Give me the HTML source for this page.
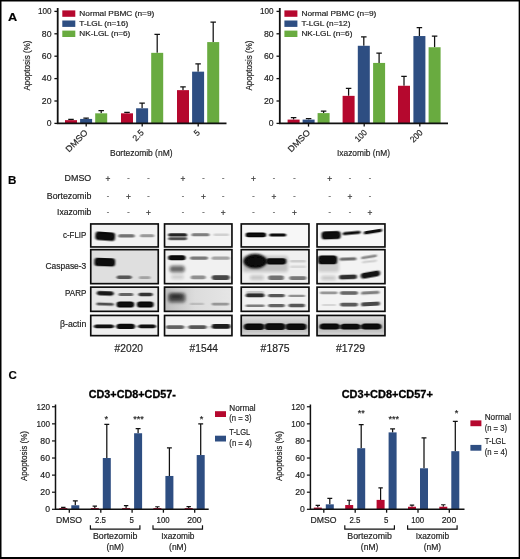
<!DOCTYPE html>
<html lang="en"><head><meta charset="utf-8"><title>Figure</title>
<style>
html,body{margin:0;padding:0;background:#fff}
body{width:520px;height:559px;overflow:hidden;position:relative}
svg{position:absolute;left:0;top:0;display:block}
svg text{font-family:"Liberation Sans", Arial, sans-serif;fill:#222;stroke:#222;stroke-width:0.18px}
</style></head><body>
<svg width="520" height="559" viewBox="0 0 520 559">
<rect width="520" height="559" fill="#fff"/>
<text x="8" y="21.3" font-size="11.5" font-weight="bold" textLength="9.2" lengthAdjust="spacingAndGlyphs" style="fill:#000">A</text>
<text x="8" y="184.2" textLength="8.4" lengthAdjust="spacingAndGlyphs" font-size="11.5" font-weight="bold" style="fill:#000">B</text>
<text x="8.6" y="379.4" font-size="11.5" font-weight="bold" style="fill:#000">C</text>
<g id="panelA">
<path d="M71.00 120.15V119.26M68.25 119.26H73.75" stroke="#111" stroke-width="1.25" fill="none"/>
<rect x="65.00" y="120.15" width="12.00" height="3.25" fill="#b5082e"/>
<path d="M86.10 118.92V118.02M83.35 118.02H88.85" stroke="#111" stroke-width="1.25" fill="none"/>
<rect x="80.10" y="118.92" width="12.00" height="4.48" fill="#2e4e82"/>
<path d="M101.20 113.32V110.52M98.45 110.52H103.95" stroke="#111" stroke-width="1.25" fill="none"/>
<rect x="95.20" y="113.32" width="12.00" height="10.08" fill="#69ab40"/>
<path d="M127.00 113.32V112.42M124.25 112.42H129.75" stroke="#111" stroke-width="1.25" fill="none"/>
<rect x="121.00" y="113.32" width="12.00" height="10.08" fill="#b5082e"/>
<path d="M142.10 108.28V103.24M139.35 103.24H144.85" stroke="#111" stroke-width="1.25" fill="none"/>
<rect x="136.10" y="108.28" width="12.00" height="15.12" fill="#2e4e82"/>
<path d="M157.20 52.84V34.36M154.45 34.36H159.95" stroke="#111" stroke-width="1.25" fill="none"/>
<rect x="151.20" y="52.84" width="12.00" height="70.56" fill="#69ab40"/>
<path d="M183.00 90.14V86.89M180.25 86.89H185.75" stroke="#111" stroke-width="1.25" fill="none"/>
<rect x="177.00" y="90.14" width="12.00" height="33.26" fill="#b5082e"/>
<path d="M198.10 71.66V63.82M195.35 63.82H200.85" stroke="#111" stroke-width="1.25" fill="none"/>
<rect x="192.10" y="71.66" width="12.00" height="51.74" fill="#2e4e82"/>
<path d="M213.20 42.09V22.04M210.45 22.04H215.95" stroke="#111" stroke-width="1.25" fill="none"/>
<rect x="207.20" y="42.09" width="12.00" height="81.31" fill="#69ab40"/>
<path d="M57.7 8V123.4H226.5" stroke="#111" stroke-width="1.8" fill="none"/>
<path d="M54.400000000000006 123.40H57.7" stroke="#111" stroke-width="1.3"/>
<text x="51.5" y="126.1" font-size="8.8" text-anchor="end" textLength="4.8" lengthAdjust="spacingAndGlyphs">0</text>
<path d="M54.400000000000006 101.00H57.7" stroke="#111" stroke-width="1.3"/>
<text x="51.5" y="103.7" font-size="8.8" text-anchor="end" textLength="9.7" lengthAdjust="spacingAndGlyphs">20</text>
<path d="M54.400000000000006 78.60H57.7" stroke="#111" stroke-width="1.3"/>
<text x="51.5" y="81.3" font-size="8.8" text-anchor="end" textLength="9.7" lengthAdjust="spacingAndGlyphs">40</text>
<path d="M54.400000000000006 56.20H57.7" stroke="#111" stroke-width="1.3"/>
<text x="51.5" y="58.9" font-size="8.8" text-anchor="end" textLength="9.7" lengthAdjust="spacingAndGlyphs">60</text>
<path d="M54.400000000000006 33.80H57.7" stroke="#111" stroke-width="1.3"/>
<text x="51.5" y="36.5" font-size="8.8" text-anchor="end" textLength="9.7" lengthAdjust="spacingAndGlyphs">80</text>
<path d="M54.400000000000006 11.40H57.7" stroke="#111" stroke-width="1.3"/>
<text x="51.5" y="14.1" font-size="8.8" text-anchor="end" textLength="13.6" lengthAdjust="spacingAndGlyphs">100</text>
<path d="M86.2 123.4V126.60000000000001" stroke="#111" stroke-width="1.3"/>
<path d="M142.2 123.4V126.60000000000001" stroke="#111" stroke-width="1.3"/>
<path d="M198.2 123.4V126.60000000000001" stroke="#111" stroke-width="1.3"/>
<text font-size="9.6" text-anchor="middle" textLength="50" lengthAdjust="spacingAndGlyphs" transform="translate(30.3 65.5) rotate(-90)">Apoptosis (%)</text>
<rect x="62.3" y="10.4" width="13" height="6.4" fill="#b5082e"/>
<text x="79.3" y="15.7" font-size="7.7" textLength="75" lengthAdjust="spacingAndGlyphs">Normal PBMC (n=9)</text>
<rect x="62.3" y="20.5" width="13" height="6.4" fill="#2e4e82"/>
<text x="79.3" y="25.8" font-size="7.7" textLength="49" lengthAdjust="spacingAndGlyphs">T-LGL (n=16)</text>
<rect x="62.3" y="30.6" width="13" height="6.4" fill="#69ab40"/>
<text x="79.3" y="35.9" font-size="7.7" textLength="51" lengthAdjust="spacingAndGlyphs">NK-LGL (n=6)</text>
<text font-size="8.6" text-anchor="end" textLength="27.5" lengthAdjust="spacingAndGlyphs" transform="translate(88.4 133.20000000000002) rotate(-45)">DMSO</text>
<text font-size="8.6" text-anchor="end" textLength="12" lengthAdjust="spacingAndGlyphs" transform="translate(144.39999999999998 133.20000000000002) rotate(-45)">2.5</text>
<text font-size="8.6" text-anchor="end" textLength="4.6" lengthAdjust="spacingAndGlyphs" transform="translate(200.39999999999998 133.20000000000002) rotate(-45)">5</text>
<text x="110" y="155.6" font-size="9.6" textLength="62.5" lengthAdjust="spacingAndGlyphs">Bortezomib (nM)</text>
<path d="M293.60 119.59V117.58M290.85 117.58H296.35" stroke="#111" stroke-width="1.25" fill="none"/>
<rect x="287.60" y="119.59" width="12.00" height="3.81" fill="#b5082e"/>
<path d="M308.60 119.59V118.58M305.85 118.58H311.35" stroke="#111" stroke-width="1.25" fill="none"/>
<rect x="302.60" y="119.59" width="12.00" height="3.81" fill="#2e4e82"/>
<path d="M323.60 113.10V111.08M320.85 111.08H326.35" stroke="#111" stroke-width="1.25" fill="none"/>
<rect x="317.60" y="113.10" width="12.00" height="10.30" fill="#69ab40"/>
<path d="M348.60 95.85V88.34M345.85 88.34H351.35" stroke="#111" stroke-width="1.25" fill="none"/>
<rect x="342.60" y="95.85" width="12.00" height="27.55" fill="#b5082e"/>
<path d="M363.80 45.78V36.94M361.05 36.94H366.55" stroke="#111" stroke-width="1.25" fill="none"/>
<rect x="357.80" y="45.78" width="12.00" height="77.62" fill="#2e4e82"/>
<path d="M379.10 62.92V53.18M376.35 53.18H381.85" stroke="#111" stroke-width="1.25" fill="none"/>
<rect x="373.10" y="62.92" width="12.00" height="60.48" fill="#69ab40"/>
<path d="M404.00 85.77V76.25M401.25 76.25H406.75" stroke="#111" stroke-width="1.25" fill="none"/>
<rect x="398.00" y="85.77" width="12.00" height="37.63" fill="#b5082e"/>
<path d="M419.40 36.04V27.53M416.65 27.53H422.15" stroke="#111" stroke-width="1.25" fill="none"/>
<rect x="413.40" y="36.04" width="12.00" height="87.36" fill="#2e4e82"/>
<path d="M434.60 47.24V36.04M431.85 36.04H437.35" stroke="#111" stroke-width="1.25" fill="none"/>
<rect x="428.60" y="47.24" width="12.00" height="76.16" fill="#69ab40"/>
<path d="M279.8 8V123.4H448" stroke="#111" stroke-width="1.8" fill="none"/>
<path d="M276.5 123.40H279.8" stroke="#111" stroke-width="1.3"/>
<text x="273.6" y="126.1" font-size="8.8" text-anchor="end" textLength="4.8" lengthAdjust="spacingAndGlyphs">0</text>
<path d="M276.5 101.00H279.8" stroke="#111" stroke-width="1.3"/>
<text x="273.6" y="103.7" font-size="8.8" text-anchor="end" textLength="9.7" lengthAdjust="spacingAndGlyphs">20</text>
<path d="M276.5 78.60H279.8" stroke="#111" stroke-width="1.3"/>
<text x="273.6" y="81.3" font-size="8.8" text-anchor="end" textLength="9.7" lengthAdjust="spacingAndGlyphs">40</text>
<path d="M276.5 56.20H279.8" stroke="#111" stroke-width="1.3"/>
<text x="273.6" y="58.9" font-size="8.8" text-anchor="end" textLength="9.7" lengthAdjust="spacingAndGlyphs">60</text>
<path d="M276.5 33.80H279.8" stroke="#111" stroke-width="1.3"/>
<text x="273.6" y="36.5" font-size="8.8" text-anchor="end" textLength="9.7" lengthAdjust="spacingAndGlyphs">80</text>
<path d="M276.5 11.40H279.8" stroke="#111" stroke-width="1.3"/>
<text x="273.6" y="14.1" font-size="8.8" text-anchor="end" textLength="13.6" lengthAdjust="spacingAndGlyphs">100</text>
<path d="M308.5 123.4V126.60000000000001" stroke="#111" stroke-width="1.3"/>
<path d="M364.2 123.4V126.60000000000001" stroke="#111" stroke-width="1.3"/>
<path d="M419.8 123.4V126.60000000000001" stroke="#111" stroke-width="1.3"/>
<text font-size="9.6" text-anchor="middle" textLength="50" lengthAdjust="spacingAndGlyphs" transform="translate(252.3 65.5) rotate(-90)">Apoptosis (%)</text>
<rect x="284.4" y="10.4" width="13" height="6.4" fill="#b5082e"/>
<text x="301.4" y="15.7" font-size="7.7" textLength="75" lengthAdjust="spacingAndGlyphs">Normal PBMC (n=9)</text>
<rect x="284.4" y="20.5" width="13" height="6.4" fill="#2e4e82"/>
<text x="301.4" y="25.8" font-size="7.7" textLength="49" lengthAdjust="spacingAndGlyphs">T-LGL (n=12)</text>
<rect x="284.4" y="30.6" width="13" height="6.4" fill="#69ab40"/>
<text x="301.4" y="35.9" font-size="7.7" textLength="51" lengthAdjust="spacingAndGlyphs">NK-LGL (n=6)</text>
<text font-size="8.6" text-anchor="end" textLength="27.5" lengthAdjust="spacingAndGlyphs" transform="translate(310.7 133.20000000000002) rotate(-45)">DMSO</text>
<text font-size="8.6" text-anchor="end" textLength="13.2" lengthAdjust="spacingAndGlyphs" transform="translate(367.59999999999997 133.20000000000002) rotate(-45)">100</text>
<text font-size="8.6" text-anchor="end" textLength="13.8" lengthAdjust="spacingAndGlyphs" transform="translate(423.2 133.20000000000002) rotate(-45)">200</text>
<text x="337" y="155.6" font-size="9.6" textLength="53" lengthAdjust="spacingAndGlyphs">Ixazomib (nM)</text>
</g>
<g id="panelB">
<text x="91.3" y="181" font-size="8.4" text-anchor="end" textLength="26.7" lengthAdjust="spacingAndGlyphs">DMSO</text>
<text x="107.9" y="182.1" font-size="8.4" text-anchor="middle" style="fill:#3a3a3a">+</text>
<text x="128.5" y="180.3" font-size="7.2" text-anchor="middle" style="fill:#666">-</text>
<text x="148.5" y="180.3" font-size="7.2" text-anchor="middle" style="fill:#666">-</text>
<text x="183" y="182.1" font-size="8.4" text-anchor="middle" style="fill:#3a3a3a">+</text>
<text x="203.5" y="180.3" font-size="7.2" text-anchor="middle" style="fill:#666">-</text>
<text x="223.2" y="180.3" font-size="7.2" text-anchor="middle" style="fill:#666">-</text>
<text x="253.5" y="182.1" font-size="8.4" text-anchor="middle" style="fill:#3a3a3a">+</text>
<text x="274" y="180.3" font-size="7.2" text-anchor="middle" style="fill:#666">-</text>
<text x="294.4" y="180.3" font-size="7.2" text-anchor="middle" style="fill:#666">-</text>
<text x="329.7" y="182.1" font-size="8.4" text-anchor="middle" style="fill:#3a3a3a">+</text>
<text x="350" y="180.3" font-size="7.2" text-anchor="middle" style="fill:#666">-</text>
<text x="370" y="180.3" font-size="7.2" text-anchor="middle" style="fill:#666">-</text>
<text x="91.3" y="198.5" font-size="8.4" text-anchor="end" textLength="44.5" lengthAdjust="spacingAndGlyphs">Bortezomib</text>
<text x="107.9" y="197.8" font-size="7.2" text-anchor="middle" style="fill:#666">-</text>
<text x="128.5" y="199.6" font-size="8.4" text-anchor="middle" style="fill:#3a3a3a">+</text>
<text x="148.5" y="197.8" font-size="7.2" text-anchor="middle" style="fill:#666">-</text>
<text x="183" y="197.8" font-size="7.2" text-anchor="middle" style="fill:#666">-</text>
<text x="203.5" y="199.6" font-size="8.4" text-anchor="middle" style="fill:#3a3a3a">+</text>
<text x="223.2" y="197.8" font-size="7.2" text-anchor="middle" style="fill:#666">-</text>
<text x="253.5" y="197.8" font-size="7.2" text-anchor="middle" style="fill:#666">-</text>
<text x="274" y="199.6" font-size="8.4" text-anchor="middle" style="fill:#3a3a3a">+</text>
<text x="294.4" y="197.8" font-size="7.2" text-anchor="middle" style="fill:#666">-</text>
<text x="329.7" y="197.8" font-size="7.2" text-anchor="middle" style="fill:#666">-</text>
<text x="350" y="199.6" font-size="8.4" text-anchor="middle" style="fill:#3a3a3a">+</text>
<text x="370" y="197.8" font-size="7.2" text-anchor="middle" style="fill:#666">-</text>
<text x="91.3" y="215.3" font-size="8.4" text-anchor="end" textLength="34.3" lengthAdjust="spacingAndGlyphs">Ixazomib</text>
<text x="107.9" y="214.4" font-size="7.2" text-anchor="middle" style="fill:#666">-</text>
<text x="128.5" y="214.4" font-size="7.2" text-anchor="middle" style="fill:#666">-</text>
<text x="148.5" y="216.2" font-size="8.4" text-anchor="middle" style="fill:#3a3a3a">+</text>
<text x="183" y="214.4" font-size="7.2" text-anchor="middle" style="fill:#666">-</text>
<text x="203.5" y="214.4" font-size="7.2" text-anchor="middle" style="fill:#666">-</text>
<text x="223.2" y="216.2" font-size="8.4" text-anchor="middle" style="fill:#3a3a3a">+</text>
<text x="253.5" y="214.4" font-size="7.2" text-anchor="middle" style="fill:#666">-</text>
<text x="274" y="214.4" font-size="7.2" text-anchor="middle" style="fill:#666">-</text>
<text x="294.4" y="216.2" font-size="8.4" text-anchor="middle" style="fill:#3a3a3a">+</text>
<text x="329.7" y="214.4" font-size="7.2" text-anchor="middle" style="fill:#666">-</text>
<text x="350" y="214.4" font-size="7.2" text-anchor="middle" style="fill:#666">-</text>
<text x="370" y="216.2" font-size="8.4" text-anchor="middle" style="fill:#3a3a3a">+</text>
</g>
<defs><filter id="b1" x="-20%" y="-60%" width="140%" height="220%"><feGaussianBlur stdDeviation="1.2 0.62"/></filter><filter id="b2" x="-20%" y="-60%" width="140%" height="220%"><feGaussianBlur stdDeviation="1.8 1.4"/></filter><linearGradient id="ga" x1="0" y1="0" x2="0" y2="1"><stop offset="0" stop-color="#e6e6e6"/><stop offset="0.4" stop-color="#c6c6c6"/><stop offset="0.75" stop-color="#c2c2c2"/><stop offset="1" stop-color="#e2e2e2"/></linearGradient><linearGradient id="gp" x1="0" y1="0" x2="1" y2="0"><stop offset="0" stop-color="#bdbdbd"/><stop offset="0.45" stop-color="#dcdcdc"/><stop offset="1" stop-color="#e6e6e6"/></linearGradient><filter id="b3" x="-20%" y="-60%" width="140%" height="220%"><feGaussianBlur stdDeviation="1.5 1.1"/></filter></defs>
<g id="blots">
<clipPath id="c00"><rect x="90" y="223.2" width="69.0" height="24.5"/></clipPath>
<rect x="90" y="223.2" width="69.0" height="24.5" fill="#f2f2f2"/>
<g clip-path="url(#c00)">
<rect x="95.5" y="232" width="19.5" height="8.5" rx="2.8" fill="#080808" opacity="1" filter="url(#b1)" transform="rotate(4 105.2 236.2)"/>
<rect x="97" y="233.5" width="16.0" height="5.5" rx="2.8" fill="#080808" opacity="1" filter="url(#b1)" transform="rotate(4 105.0 236.2)"/>
<rect x="118.2" y="234.2" width="16.5" height="3.4" rx="1.7" fill="#080808" opacity="0.55" filter="url(#b1)"/>
<rect x="140" y="234.2" width="14.2" height="3.0" rx="1.5" fill="#080808" opacity="0.38" filter="url(#b1)"/>
</g>
<rect x="90.75" y="223.95" width="67.5" height="23.0" fill="none" stroke="#0c0c0c" stroke-width="1.65"/>
<clipPath id="c01"><rect x="90" y="248.9" width="69.0" height="35.5"/></clipPath>
<rect x="90" y="248.9" width="69.0" height="35.5" fill="#dfdfdf"/>
<g clip-path="url(#c01)">
<rect x="94.5" y="258" width="20.5" height="8.2" rx="2.8" fill="#080808" opacity="1" filter="url(#b1)" transform="rotate(2 104.8 262.1)"/>
<rect x="97" y="259.5" width="16.5" height="5.7" rx="2.8" fill="#080808" opacity="1" filter="url(#b1)" transform="rotate(2 105.2 262.4)"/>
<rect x="116.7" y="275.5" width="15.0" height="3.5" rx="1.8" fill="#080808" opacity="0.65" filter="url(#b1)"/>
<rect x="139" y="276.3" width="11.5" height="2.7" rx="1.3" fill="#080808" opacity="0.28" filter="url(#b1)"/>
</g>
<rect x="90.75" y="249.65" width="67.5" height="34.0" fill="none" stroke="#0c0c0c" stroke-width="1.65"/>
<clipPath id="c02"><rect x="90" y="286.4" width="69.0" height="25.7"/></clipPath>
<rect x="90" y="286.4" width="69.0" height="25.7" fill="#e8e8e8"/>
<g clip-path="url(#c02)">
<rect x="96.8" y="291.2" width="16.9" height="4.2" rx="2.1" fill="#080808" opacity="0.95" filter="url(#b1)" transform="rotate(2 105.2 293.3)"/>
<rect x="118.7" y="293" width="14.5" height="3.0" rx="1.5" fill="#080808" opacity="0.6" filter="url(#b1)"/>
<rect x="138.5" y="292.8" width="14.2" height="3.4" rx="1.7" fill="#080808" opacity="0.82" filter="url(#b1)"/>
<rect x="96.5" y="302.8" width="17.2" height="2.8" rx="1.4" fill="#080808" opacity="0.7" filter="url(#b1)" transform="rotate(2 105.1 304.2)"/>
<rect x="116.7" y="301.6" width="17.3" height="6.0" rx="2.8" fill="#080808" opacity="1" filter="url(#b1)"/>
<rect x="118" y="302.6" width="15.0" height="4.0" rx="2.0" fill="#080808" opacity="0.8" filter="url(#b1)"/>
<rect x="137" y="301.6" width="16.5" height="6.0" rx="2.8" fill="#080808" opacity="1" filter="url(#b1)"/>
<rect x="138.5" y="302.6" width="13.5" height="4.0" rx="2.0" fill="#080808" opacity="0.8" filter="url(#b1)"/>
</g>
<rect x="90.75" y="287.15" width="67.5" height="24.2" fill="none" stroke="#0c0c0c" stroke-width="1.65"/>
<clipPath id="c03"><rect x="90" y="314.7" width="69.0" height="21.7"/></clipPath>
<rect x="90" y="314.7" width="69.0" height="21.7" fill="#efefef"/>
<g clip-path="url(#c03)">
<rect x="94.2" y="324.4" width="19.5" height="3.8" rx="1.9" fill="#080808" opacity="0.97" filter="url(#b1)"/>
<rect x="116.7" y="323.8" width="18.0" height="5.2" rx="2.6" fill="#080808" opacity="1" filter="url(#b1)"/>
<rect x="118" y="324.8" width="15.0" height="3.2" rx="1.6" fill="#080808" opacity="0.7" filter="url(#b1)"/>
<rect x="138.5" y="324.4" width="17.2" height="3.8" rx="1.9" fill="#080808" opacity="0.97" filter="url(#b1)"/>
<rect x="93" y="325.4" width="64.0" height="2.2" rx="1.1" fill="#080808" opacity="0.2" filter="url(#b1)"/>
</g>
<rect x="90.75" y="315.45" width="67.5" height="20.2" fill="none" stroke="#0c0c0c" stroke-width="1.65"/>
<clipPath id="c10"><rect x="163.8" y="223.2" width="68.9" height="24.5"/></clipPath>
<rect x="163.8" y="223.2" width="68.9" height="24.5" fill="#f3f3f3"/>
<g clip-path="url(#c10)">
<rect x="168.2" y="233.2" width="18.8" height="3.0" rx="1.5" fill="#080808" opacity="0.85" filter="url(#b1)"/>
<rect x="168.2" y="237.4" width="18.8" height="2.8" rx="1.4" fill="#080808" opacity="0.62" filter="url(#b1)"/>
<rect x="169" y="234" width="18.0" height="5.5" rx="2.8" fill="#080808" opacity="0.3" filter="url(#b1)"/>
<rect x="191.5" y="233.2" width="18.0" height="3.0" rx="1.5" fill="#080808" opacity="0.5" filter="url(#b1)"/>
<rect x="213.5" y="233.4" width="15.5" height="2.6" rx="1.3" fill="#080808" opacity="0.14" filter="url(#b1)"/>
</g>
<rect x="164.55" y="223.95" width="67.4" height="23.0" fill="none" stroke="#0c0c0c" stroke-width="1.65"/>
<clipPath id="c11"><rect x="163.8" y="248.9" width="68.9" height="35.5"/></clipPath>
<rect x="163.8" y="248.9" width="68.9" height="35.5" fill="#f1f1f1"/>
<g clip-path="url(#c11)">
<rect x="168.2" y="255.2" width="17.3" height="5.0" rx="2.5" fill="#080808" opacity="1" filter="url(#b1)"/>
<rect x="170" y="256.4" width="14.0" height="2.8" rx="1.4" fill="#080808" opacity="0.7" filter="url(#b1)"/>
<rect x="169.7" y="265.8" width="15.0" height="6.4" rx="2.8" fill="#080808" opacity="0.6" filter="url(#b2)"/>
<rect x="171" y="275" width="13.0" height="4.0" rx="2.0" fill="#080808" opacity="0.16" filter="url(#b2)"/>
<rect x="190" y="256.4" width="18.0" height="3.4" rx="1.7" fill="#080808" opacity="0.52" filter="url(#b1)"/>
<rect x="190.7" y="275.5" width="15.0" height="3.7" rx="1.8" fill="#080808" opacity="0.42" filter="url(#b1)"/>
<rect x="211.7" y="256.6" width="18.0" height="3.2" rx="1.6" fill="#080808" opacity="0.33" filter="url(#b1)"/>
<rect x="211.7" y="275.2" width="18.0" height="4.8" rx="2.4" fill="#080808" opacity="0.75" filter="url(#b1)"/>
</g>
<rect x="164.55" y="249.65" width="67.4" height="34.0" fill="none" stroke="#0c0c0c" stroke-width="1.65"/>
<clipPath id="c12"><rect x="163.8" y="286.4" width="68.9" height="25.7"/></clipPath>
<rect x="163.8" y="286.4" width="68.9" height="25.7" fill="url(#gp)"/>
<g clip-path="url(#c12)">
<rect x="168.2" y="293" width="17.3" height="9.4" rx="2.8" fill="#080808" opacity="0.6" filter="url(#b2)"/>
<rect x="170.5" y="294" width="11.5" height="5.0" rx="2.5" fill="#080808" opacity="0.55" filter="url(#b2)"/>
<rect x="211.7" y="302.8" width="17.3" height="2.6" rx="1.3" fill="#080808" opacity="0.35" filter="url(#b1)"/>
<rect x="190" y="302.8" width="14.0" height="2.2" rx="1.1" fill="#080808" opacity="0.15" filter="url(#b1)"/>
</g>
<rect x="164.55" y="287.15" width="67.4" height="24.2" fill="none" stroke="#0c0c0c" stroke-width="1.65"/>
<clipPath id="c13"><rect x="163.8" y="314.7" width="68.9" height="21.7"/></clipPath>
<rect x="163.8" y="314.7" width="68.9" height="21.7" fill="#f3f3f3"/>
<g clip-path="url(#c13)">
<rect x="166" y="325.2" width="18.0" height="3.8" rx="1.9" fill="#080808" opacity="0.58" filter="url(#b1)"/>
<rect x="188.5" y="325.2" width="18.0" height="3.8" rx="1.9" fill="#080808" opacity="0.64" filter="url(#b1)"/>
<rect x="211.7" y="324" width="18.8" height="4.8" rx="2.4" fill="#080808" opacity="0.92" filter="url(#b1)"/>
<rect x="166" y="326" width="64.0" height="2.5" rx="1.2" fill="#080808" opacity="0.1" filter="url(#b1)"/>
</g>
<rect x="164.55" y="315.45" width="67.4" height="20.2" fill="none" stroke="#0c0c0c" stroke-width="1.65"/>
<clipPath id="c20"><rect x="240.5" y="223.2" width="69.2" height="24.5"/></clipPath>
<rect x="240.5" y="223.2" width="69.2" height="24.5" fill="#f7f7f7"/>
<g clip-path="url(#c20)">
<rect x="245.7" y="232.6" width="20.3" height="4.6" rx="2.3" fill="#080808" opacity="1" filter="url(#b1)"/>
<rect x="247" y="233.2" width="17.5" height="3.4" rx="1.7" fill="#080808" opacity="1" filter="url(#b1)"/>
<rect x="269.3" y="233.4" width="16.9" height="3.0" rx="1.5" fill="#080808" opacity="1" filter="url(#b1)"/>
</g>
<rect x="241.25" y="223.95" width="67.7" height="23.0" fill="none" stroke="#0c0c0c" stroke-width="1.65"/>
<clipPath id="c21"><rect x="240.5" y="248.9" width="69.2" height="35.5"/></clipPath>
<rect x="240.5" y="248.9" width="69.2" height="35.5" fill="#f0f0f0"/>
<g clip-path="url(#c21)">
<ellipse cx="255.1" cy="261.2" rx="11.6" ry="7.4" fill="#080808" opacity="1" filter="url(#b3)"/>
<ellipse cx="255.5" cy="261.4" rx="10.5" ry="5.8" fill="#080808" opacity="1" filter="url(#b1)"/>
<ellipse cx="255.5" cy="261.5" rx="8.5" ry="4.5" fill="#080808" opacity="1" filter="url(#b1)"/>
<rect x="266" y="258.2" width="20.2" height="6.2" rx="2.8" fill="#080808" opacity="1" filter="url(#b1)"/>
<rect x="268" y="259.5" width="16.0" height="4.0" rx="2.0" fill="#080808" opacity="0.8" filter="url(#b1)"/>
<rect x="243" y="256" width="45.0" height="16.0" rx="2.8" fill="#080808" opacity="0.2" filter="url(#b2)"/>
<rect x="290" y="260" width="16.0" height="2.5" rx="1.2" fill="#080808" opacity="0.15" filter="url(#b1)"/>
<rect x="290" y="265.5" width="16.0" height="2.5" rx="1.2" fill="#080808" opacity="0.1" filter="url(#b1)"/>
<rect x="250" y="275.8" width="14.0" height="3.8" rx="1.9" fill="#080808" opacity="0.22" filter="url(#b2)"/>
<rect x="268.2" y="275.5" width="15.8" height="4.5" rx="2.2" fill="#080808" opacity="0.55" filter="url(#b1)"/>
<rect x="289.2" y="276.2" width="17.3" height="3.7" rx="1.8" fill="#080808" opacity="0.52" filter="url(#b1)"/>
</g>
<rect x="241.25" y="249.65" width="67.7" height="34.0" fill="none" stroke="#0c0c0c" stroke-width="1.65"/>
<clipPath id="c22"><rect x="240.5" y="286.4" width="69.2" height="25.7"/></clipPath>
<rect x="240.5" y="286.4" width="69.2" height="25.7" fill="#f1f1f1"/>
<g clip-path="url(#c22)">
<rect x="245.7" y="293.6" width="18.8" height="3.6" rx="1.8" fill="#080808" opacity="0.85" filter="url(#b1)"/>
<rect x="246" y="291" width="18.0" height="3.0" rx="1.5" fill="#080808" opacity="0.18" filter="url(#b1)"/>
<rect x="268.2" y="294" width="16.5" height="3.2" rx="1.6" fill="#080808" opacity="0.68" filter="url(#b1)"/>
<rect x="288.5" y="294.8" width="16.5" height="2.2" rx="1.1" fill="#080808" opacity="0.42" filter="url(#b1)"/>
<rect x="245.7" y="304.4" width="18.8" height="2.5" rx="1.2" fill="#080808" opacity="0.5" filter="url(#b1)"/>
<rect x="268.2" y="304" width="16.5" height="3.2" rx="1.6" fill="#080808" opacity="0.62" filter="url(#b1)"/>
<rect x="288.5" y="303.8" width="16.5" height="3.4" rx="1.7" fill="#080808" opacity="0.68" filter="url(#b1)"/>
</g>
<rect x="241.25" y="287.15" width="67.7" height="24.2" fill="none" stroke="#0c0c0c" stroke-width="1.65"/>
<clipPath id="c23"><rect x="240.5" y="314.7" width="69.2" height="21.7"/></clipPath>
<rect x="240.5" y="314.7" width="69.2" height="21.7" fill="url(#ga)"/>
<g clip-path="url(#c23)">
<rect x="244.5" y="323.4" width="19.3" height="6.6" rx="2.8" fill="#080808" opacity="1" filter="url(#b1)"/>
<rect x="245.5" y="324.4" width="17.0" height="4.6" rx="2.3" fill="#080808" opacity="0.8" filter="url(#b1)"/>
<rect x="265.2" y="323.2" width="19.6" height="6.8" rx="2.8" fill="#080808" opacity="1" filter="url(#b1)"/>
<rect x="266.5" y="324.4" width="17.0" height="4.6" rx="2.3" fill="#080808" opacity="0.8" filter="url(#b1)"/>
<rect x="286.2" y="323.6" width="19.8" height="6.4" rx="2.8" fill="#080808" opacity="1" filter="url(#b1)"/>
<rect x="287.5" y="324.6" width="17.0" height="4.4" rx="2.2" fill="#080808" opacity="0.8" filter="url(#b1)"/>
<rect x="243.5" y="324.5" width="63.5" height="4.5" rx="2.2" fill="#080808" opacity="0.45" filter="url(#b1)"/>
</g>
<rect x="241.25" y="315.45" width="67.7" height="20.2" fill="none" stroke="#0c0c0c" stroke-width="1.65"/>
<clipPath id="c30"><rect x="316.3" y="223.2" width="69.4" height="24.5"/></clipPath>
<rect x="316.3" y="223.2" width="69.4" height="24.5" fill="#f7f7f7"/>
<g clip-path="url(#c30)">
<rect x="321.7" y="231.2" width="18.8" height="8.0" rx="2.8" fill="#080808" opacity="1" filter="url(#b1)" transform="rotate(-2 331.1 235.2)"/>
<rect x="323.2" y="232.6" width="15.8" height="5.4" rx="2.7" fill="#080808" opacity="1" filter="url(#b1)" transform="rotate(-2 331.1 235.3)"/>
<rect x="342.7" y="231.6" width="18.0" height="3.0" rx="1.5" fill="#080808" opacity="1" filter="url(#b1)" transform="rotate(-5 351.7 233.1)"/>
<rect x="363.7" y="230" width="18.5" height="3.2" rx="1.6" fill="#080808" opacity="1" filter="url(#b1)" transform="rotate(-9 372.9 231.6)"/>
</g>
<rect x="317.05" y="223.95" width="67.9" height="23.0" fill="none" stroke="#0c0c0c" stroke-width="1.65"/>
<clipPath id="c31"><rect x="316.3" y="248.9" width="69.4" height="35.5"/></clipPath>
<rect x="316.3" y="248.9" width="69.4" height="35.5" fill="#f3f3f3"/>
<g clip-path="url(#c31)">
<rect x="318.3" y="255.4" width="18.6" height="8.8" rx="2.8" fill="#080808" opacity="1" filter="url(#b1)"/>
<rect x="320" y="256.8" width="15.5" height="6.2" rx="2.8" fill="#080808" opacity="1" filter="url(#b1)"/>
<rect x="318" y="256" width="21.0" height="16.0" rx="2.8" fill="#080808" opacity="0.17" filter="url(#b2)"/>
<rect x="339.5" y="257.6" width="17.0" height="3.0" rx="1.5" fill="#080808" opacity="0.58" filter="url(#b1)" transform="rotate(-2 348.0 259.1)"/>
<rect x="361" y="255.4" width="16.0" height="2.8" rx="1.4" fill="#080808" opacity="0.45" filter="url(#b1)" transform="rotate(-9 369.0 256.8)"/>
<rect x="362" y="260.5" width="15.0" height="2.0" rx="1.0" fill="#080808" opacity="0.16" filter="url(#b1)" transform="rotate(-6 369.5 261.5)"/>
<rect x="321" y="276" width="15.0" height="4.0" rx="2.0" fill="#080808" opacity="0.2" filter="url(#b2)"/>
<rect x="339" y="274.8" width="18.0" height="4.4" rx="2.2" fill="#080808" opacity="0.85" filter="url(#b1)" transform="rotate(-2 348.0 277.0)"/>
<rect x="360.7" y="271.8" width="19.5" height="5.6" rx="2.8" fill="#080808" opacity="0.97" filter="url(#b1)" transform="rotate(-10 370.4 274.6)"/>
</g>
<rect x="317.05" y="249.65" width="67.9" height="34.0" fill="none" stroke="#0c0c0c" stroke-width="1.65"/>
<clipPath id="c32"><rect x="316.3" y="286.4" width="69.4" height="25.7"/></clipPath>
<rect x="316.3" y="286.4" width="69.4" height="25.7" fill="#f3f3f3"/>
<g clip-path="url(#c32)">
<rect x="320" y="291.4" width="17.5" height="2.8" rx="1.4" fill="#080808" opacity="0.4" filter="url(#b1)"/>
<rect x="340" y="291.2" width="18.0" height="3.6" rx="1.8" fill="#080808" opacity="0.6" filter="url(#b1)"/>
<rect x="361" y="291.2" width="18.5" height="3.0" rx="1.5" fill="#080808" opacity="0.5" filter="url(#b1)" transform="rotate(-3 370.2 292.7)"/>
<rect x="322" y="304" width="14.0" height="2.0" rx="1.0" fill="#080808" opacity="0.12" filter="url(#b1)"/>
<rect x="340" y="302.8" width="18.0" height="3.6" rx="1.8" fill="#080808" opacity="0.66" filter="url(#b1)"/>
<rect x="361" y="302" width="19.0" height="4.0" rx="2.0" fill="#080808" opacity="0.74" filter="url(#b1)" transform="rotate(-3 370.5 304.0)"/>
</g>
<rect x="317.05" y="287.15" width="67.9" height="24.2" fill="none" stroke="#0c0c0c" stroke-width="1.65"/>
<clipPath id="c33"><rect x="316.3" y="314.7" width="69.4" height="21.7"/></clipPath>
<rect x="316.3" y="314.7" width="69.4" height="21.7" fill="url(#ga)"/>
<g clip-path="url(#c33)">
<rect x="320" y="323.6" width="19.5" height="5.8" rx="2.8" fill="#080808" opacity="1" filter="url(#b1)"/>
<rect x="321" y="324.5" width="17.0" height="4.0" rx="2.0" fill="#080808" opacity="0.8" filter="url(#b1)"/>
<rect x="340.8" y="323.8" width="19.2" height="5.8" rx="2.8" fill="#080808" opacity="1" filter="url(#b1)"/>
<rect x="342" y="324.7" width="17.0" height="4.0" rx="2.0" fill="#080808" opacity="0.8" filter="url(#b1)"/>
<rect x="361.5" y="323.6" width="19.5" height="5.8" rx="2.8" fill="#080808" opacity="1" filter="url(#b1)"/>
<rect x="362.5" y="324.5" width="17.5" height="4.0" rx="2.0" fill="#080808" opacity="0.8" filter="url(#b1)"/>
<rect x="319.5" y="325" width="62.0" height="4.0" rx="2.0" fill="#080808" opacity="0.5" filter="url(#b1)"/>
</g>
<rect x="317.05" y="315.45" width="67.9" height="20.2" fill="none" stroke="#0c0c0c" stroke-width="1.65"/>
</g>
<text x="86.3" y="237.9" font-size="8.6" text-anchor="end" textLength="23.3" lengthAdjust="spacingAndGlyphs">c-FLIP</text>
<text x="86.3" y="268.8" font-size="8.6" text-anchor="end" textLength="40.8" lengthAdjust="spacingAndGlyphs">Caspase-3</text>
<text x="86.3" y="295.9" font-size="8.6" text-anchor="end" textLength="21.3" lengthAdjust="spacingAndGlyphs">PARP</text>
<text x="86.3" y="326.7" font-size="8.6" text-anchor="end" textLength="26.3" lengthAdjust="spacingAndGlyphs">β-actin</text>
<text x="114.6" y="352" font-size="10.8" textLength="28.4" lengthAdjust="spacingAndGlyphs">#2020</text>
<text x="189.6" y="352" font-size="10.8" textLength="28.4" lengthAdjust="spacingAndGlyphs">#1544</text>
<text x="260.6" y="352" font-size="10.8" textLength="29" lengthAdjust="spacingAndGlyphs">#1875</text>
<text x="336" y="352" font-size="10.8" textLength="29" lengthAdjust="spacingAndGlyphs">#1729</text>
<g id="panelC">
<path d="M63.30 508.10V507.42M61.10 507.42H65.50" stroke="#111" stroke-width="1.2" fill="none"/>
<rect x="59.30" y="508.10" width="8.00" height="1.20" fill="#b5082e"/>
<path d="M75.30 505.28V500.75M72.85 500.75H77.75" stroke="#111" stroke-width="1.25" fill="none"/>
<rect x="71.30" y="505.28" width="8.00" height="4.02" fill="#2e4e82"/>
<path d="M94.80 508.10V506.05M92.60 506.05H97.00" stroke="#111" stroke-width="1.2" fill="none"/>
<rect x="90.80" y="508.10" width="8.00" height="1.20" fill="#b5082e"/>
<path d="M106.80 458.03V424.28M104.35 424.28H109.25" stroke="#111" stroke-width="1.25" fill="none"/>
<rect x="102.80" y="458.03" width="8.00" height="51.27" fill="#2e4e82"/>
<path d="M126.10 508.10V505.71M123.90 505.71H128.30" stroke="#111" stroke-width="1.2" fill="none"/>
<rect x="122.10" y="508.10" width="8.00" height="1.20" fill="#b5082e"/>
<path d="M138.10 433.25V428.64M135.65 428.64H140.55" stroke="#111" stroke-width="1.25" fill="none"/>
<rect x="134.10" y="433.25" width="8.00" height="76.05" fill="#2e4e82"/>
<path d="M157.40 508.10V506.74M155.20 506.74H159.60" stroke="#111" stroke-width="1.2" fill="none"/>
<rect x="153.40" y="508.10" width="8.00" height="1.20" fill="#b5082e"/>
<path d="M169.40 475.97V447.78M166.95 447.78H171.85" stroke="#111" stroke-width="1.25" fill="none"/>
<rect x="165.40" y="475.97" width="8.00" height="33.33" fill="#2e4e82"/>
<path d="M188.70 508.10V506.57M186.50 506.57H190.90" stroke="#111" stroke-width="1.2" fill="none"/>
<rect x="184.70" y="508.10" width="8.00" height="1.20" fill="#b5082e"/>
<path d="M200.70 455.04V423.85M198.25 423.85H203.15" stroke="#111" stroke-width="1.25" fill="none"/>
<rect x="196.70" y="455.04" width="8.00" height="54.26" fill="#2e4e82"/>
<path d="M55.5 404.6V509.3H208.7" stroke="#111" stroke-width="1.5" fill="none"/>
<path d="M52.0 509.30H55.5" stroke="#111" stroke-width="1.2"/>
<text x="50.0" y="512.1" font-size="8.8" text-anchor="end" textLength="4.8" lengthAdjust="spacingAndGlyphs">0</text>
<path d="M52.0 492.21H55.5" stroke="#111" stroke-width="1.2"/>
<text x="50.0" y="495.01" font-size="8.8" text-anchor="end" textLength="9.7" lengthAdjust="spacingAndGlyphs">20</text>
<path d="M52.0 475.12H55.5" stroke="#111" stroke-width="1.2"/>
<text x="50.0" y="477.92" font-size="8.8" text-anchor="end" textLength="9.7" lengthAdjust="spacingAndGlyphs">40</text>
<path d="M52.0 458.03H55.5" stroke="#111" stroke-width="1.2"/>
<text x="50.0" y="460.83" font-size="8.8" text-anchor="end" textLength="9.7" lengthAdjust="spacingAndGlyphs">60</text>
<path d="M52.0 440.94H55.5" stroke="#111" stroke-width="1.2"/>
<text x="50.0" y="443.74" font-size="8.8" text-anchor="end" textLength="9.7" lengthAdjust="spacingAndGlyphs">80</text>
<path d="M52.0 423.85H55.5" stroke="#111" stroke-width="1.2"/>
<text x="50.0" y="426.65" font-size="8.8" text-anchor="end" textLength="13.6" lengthAdjust="spacingAndGlyphs">100</text>
<path d="M52.0 406.76H55.5" stroke="#111" stroke-width="1.2"/>
<text x="50.0" y="409.56" font-size="8.8" text-anchor="end" textLength="13.6" lengthAdjust="spacingAndGlyphs">120</text>
<path d="M69.3 509.3V512.7" stroke="#111" stroke-width="1.3"/>
<path d="M100.8 509.3V512.7" stroke="#111" stroke-width="1.3"/>
<path d="M132.1 509.3V512.7" stroke="#111" stroke-width="1.3"/>
<path d="M163.4 509.3V512.7" stroke="#111" stroke-width="1.3"/>
<path d="M194.7 509.3V512.7" stroke="#111" stroke-width="1.3"/>
<text x="69.0" y="522.6" font-size="8.4" text-anchor="middle" textLength="26" lengthAdjust="spacingAndGlyphs">DMSO</text>
<text x="100.5" y="522.6" font-size="8.4" text-anchor="middle" textLength="11" lengthAdjust="spacingAndGlyphs">2.5</text>
<text x="131.79999999999998" y="522.6" font-size="8.4" text-anchor="middle" textLength="4.4" lengthAdjust="spacingAndGlyphs">5</text>
<text x="163.1" y="522.6" font-size="8.4" text-anchor="middle" textLength="13" lengthAdjust="spacingAndGlyphs">100</text>
<text x="194.39999999999998" y="522.6" font-size="8.4" text-anchor="middle" textLength="14.5" lengthAdjust="spacingAndGlyphs">200</text>
<text font-size="9.6" text-anchor="middle" textLength="50" lengthAdjust="spacingAndGlyphs" transform="translate(27.3 456) rotate(-90)">Apoptosis (%)</text>
<text x="88.7" y="398" font-size="10.1" font-weight="bold" textLength="87.2" lengthAdjust="spacingAndGlyphs" style="fill:#000;stroke:#000;stroke-width:0.3px">CD3+CD8+CD57-</text>
<path d="M90.4 525.2V529.2H139.9V525.2" stroke="#111" stroke-width="1.2" fill="none"/>
<text x="115.2" y="538.8" font-size="8.4" text-anchor="middle" textLength="44.5" lengthAdjust="spacingAndGlyphs">Bortezomib</text>
<text x="115.2" y="549.5" font-size="8.4" text-anchor="middle" textLength="17.5" lengthAdjust="spacingAndGlyphs">(nM)</text>
<path d="M153.0 525.2V529.2H202.5V525.2" stroke="#111" stroke-width="1.2" fill="none"/>
<text x="177.8" y="538.8" font-size="8.4" text-anchor="middle" textLength="33.2" lengthAdjust="spacingAndGlyphs">Ixazomib</text>
<text x="177.8" y="549.5" font-size="8.4" text-anchor="middle" textLength="17.5" lengthAdjust="spacingAndGlyphs">(nM)</text>
<text x="106.3" y="421.8" font-size="9.8" text-anchor="middle" textLength="3.6" lengthAdjust="spacingAndGlyphs">*</text>
<text x="138.6" y="421.8" font-size="9.8" text-anchor="middle" textLength="10.6" lengthAdjust="spacingAndGlyphs">***</text>
<text x="201.5" y="421.8" font-size="9.8" text-anchor="middle" textLength="3.6" lengthAdjust="spacingAndGlyphs">*</text>
<rect x="215" y="411.2" width="11" height="5.8" fill="#b5082e"/>
<text x="229.3" y="411.1" font-size="8.8" textLength="26.4" lengthAdjust="spacingAndGlyphs">Normal</text>
<text x="229.3" y="421.3" font-size="8.6" textLength="22.3" lengthAdjust="spacingAndGlyphs">(n = 3)</text>
<rect x="215" y="435.7" width="11" height="5.8" fill="#2e4e82"/>
<text x="229.3" y="435.2" font-size="8.8" textLength="21" lengthAdjust="spacingAndGlyphs">T-LGL</text>
<text x="229.3" y="445.5" font-size="8.6" textLength="22.6" lengthAdjust="spacingAndGlyphs">(n = 4)</text>
<path d="M317.80 507.59V505.45M315.60 505.45H320.00" stroke="#111" stroke-width="1.2" fill="none"/>
<rect x="313.80" y="507.59" width="8.00" height="1.71" fill="#b5082e"/>
<path d="M329.80 504.34V498.36M327.35 498.36H332.25" stroke="#111" stroke-width="1.25" fill="none"/>
<rect x="325.80" y="504.34" width="8.00" height="4.96" fill="#2e4e82"/>
<path d="M349.20 505.03V500.24M347.00 500.24H351.40" stroke="#111" stroke-width="1.2" fill="none"/>
<rect x="345.20" y="505.03" width="8.00" height="4.27" fill="#b5082e"/>
<path d="M361.20 448.20V424.70M358.75 424.70H363.65" stroke="#111" stroke-width="1.25" fill="none"/>
<rect x="357.20" y="448.20" width="8.00" height="61.10" fill="#2e4e82"/>
<path d="M380.60 499.90V487.94M378.40 487.94H382.80" stroke="#111" stroke-width="1.2" fill="none"/>
<rect x="376.60" y="499.90" width="8.00" height="9.40" fill="#b5082e"/>
<path d="M392.60 432.39V428.81M390.15 428.81H395.05" stroke="#111" stroke-width="1.25" fill="none"/>
<rect x="388.60" y="432.39" width="8.00" height="76.91" fill="#2e4e82"/>
<path d="M412.00 506.74V505.03M409.80 505.03H414.20" stroke="#111" stroke-width="1.2" fill="none"/>
<rect x="408.00" y="506.74" width="8.00" height="2.56" fill="#b5082e"/>
<path d="M424.00 468.28V437.95M421.55 437.95H426.45" stroke="#111" stroke-width="1.25" fill="none"/>
<rect x="420.00" y="468.28" width="8.00" height="41.02" fill="#2e4e82"/>
<path d="M443.30 506.74V504.77M441.10 504.77H445.50" stroke="#111" stroke-width="1.2" fill="none"/>
<rect x="439.30" y="506.74" width="8.00" height="2.56" fill="#b5082e"/>
<path d="M455.30 451.19V421.29M452.85 421.29H457.75" stroke="#111" stroke-width="1.25" fill="none"/>
<rect x="451.30" y="451.19" width="8.00" height="58.11" fill="#2e4e82"/>
<path d="M310.4 404.6V509.3H464.5" stroke="#111" stroke-width="1.5" fill="none"/>
<path d="M306.9 509.30H310.4" stroke="#111" stroke-width="1.2"/>
<text x="304.9" y="512.1" font-size="8.8" text-anchor="end" textLength="4.8" lengthAdjust="spacingAndGlyphs">0</text>
<path d="M306.9 492.21H310.4" stroke="#111" stroke-width="1.2"/>
<text x="304.9" y="495.01" font-size="8.8" text-anchor="end" textLength="9.7" lengthAdjust="spacingAndGlyphs">20</text>
<path d="M306.9 475.12H310.4" stroke="#111" stroke-width="1.2"/>
<text x="304.9" y="477.92" font-size="8.8" text-anchor="end" textLength="9.7" lengthAdjust="spacingAndGlyphs">40</text>
<path d="M306.9 458.03H310.4" stroke="#111" stroke-width="1.2"/>
<text x="304.9" y="460.83" font-size="8.8" text-anchor="end" textLength="9.7" lengthAdjust="spacingAndGlyphs">60</text>
<path d="M306.9 440.94H310.4" stroke="#111" stroke-width="1.2"/>
<text x="304.9" y="443.74" font-size="8.8" text-anchor="end" textLength="9.7" lengthAdjust="spacingAndGlyphs">80</text>
<path d="M306.9 423.85H310.4" stroke="#111" stroke-width="1.2"/>
<text x="304.9" y="426.65" font-size="8.8" text-anchor="end" textLength="13.6" lengthAdjust="spacingAndGlyphs">100</text>
<path d="M306.9 406.76H310.4" stroke="#111" stroke-width="1.2"/>
<text x="304.9" y="409.56" font-size="8.8" text-anchor="end" textLength="13.6" lengthAdjust="spacingAndGlyphs">120</text>
<path d="M323.8 509.3V512.7" stroke="#111" stroke-width="1.3"/>
<path d="M355.2 509.3V512.7" stroke="#111" stroke-width="1.3"/>
<path d="M386.6 509.3V512.7" stroke="#111" stroke-width="1.3"/>
<path d="M418 509.3V512.7" stroke="#111" stroke-width="1.3"/>
<path d="M449.3 509.3V512.7" stroke="#111" stroke-width="1.3"/>
<text x="323.5" y="522.6" font-size="8.4" text-anchor="middle" textLength="26" lengthAdjust="spacingAndGlyphs">DMSO</text>
<text x="354.9" y="522.6" font-size="8.4" text-anchor="middle" textLength="11" lengthAdjust="spacingAndGlyphs">2.5</text>
<text x="386.3" y="522.6" font-size="8.4" text-anchor="middle" textLength="4.4" lengthAdjust="spacingAndGlyphs">5</text>
<text x="417.7" y="522.6" font-size="8.4" text-anchor="middle" textLength="13" lengthAdjust="spacingAndGlyphs">100</text>
<text x="449.0" y="522.6" font-size="8.4" text-anchor="middle" textLength="14.5" lengthAdjust="spacingAndGlyphs">200</text>
<text font-size="9.6" text-anchor="middle" textLength="50" lengthAdjust="spacingAndGlyphs" transform="translate(281.6 456) rotate(-90)">Apoptosis (%)</text>
<text x="341.7" y="398" font-size="10.1" font-weight="bold" textLength="91.2" lengthAdjust="spacingAndGlyphs" style="fill:#000;stroke:#000;stroke-width:0.3px">CD3+CD8+CD57+</text>
<path d="M344.8 525.2V529.2H394.4V525.2" stroke="#111" stroke-width="1.2" fill="none"/>
<text x="369.6" y="538.8" font-size="8.4" text-anchor="middle" textLength="44.5" lengthAdjust="spacingAndGlyphs">Bortezomib</text>
<text x="369.6" y="549.5" font-size="8.4" text-anchor="middle" textLength="17.5" lengthAdjust="spacingAndGlyphs">(nM)</text>
<path d="M407.6 525.2V529.2H457.1V525.2" stroke="#111" stroke-width="1.2" fill="none"/>
<text x="432.4" y="538.8" font-size="8.4" text-anchor="middle" textLength="33.2" lengthAdjust="spacingAndGlyphs">Ixazomib</text>
<text x="432.4" y="549.5" font-size="8.4" text-anchor="middle" textLength="17.5" lengthAdjust="spacingAndGlyphs">(nM)</text>
<text x="361.2" y="416.4" font-size="9.8" text-anchor="middle" textLength="7" lengthAdjust="spacingAndGlyphs">**</text>
<text x="393.8" y="421.6" font-size="9.8" text-anchor="middle" textLength="10.6" lengthAdjust="spacingAndGlyphs">***</text>
<text x="456.6" y="416.4" font-size="9.8" text-anchor="middle" textLength="3.6" lengthAdjust="spacingAndGlyphs">*</text>
<rect x="470.4" y="420.4" width="11" height="5.8" fill="#b5082e"/>
<text x="484.7" y="420.3" font-size="8.8" textLength="26.4" lengthAdjust="spacingAndGlyphs">Normal</text>
<text x="484.7" y="430.5" font-size="8.6" textLength="22.3" lengthAdjust="spacingAndGlyphs">(n = 3)</text>
<rect x="470.4" y="444.9" width="11" height="5.8" fill="#2e4e82"/>
<text x="484.7" y="444.4" font-size="8.8" textLength="21" lengthAdjust="spacingAndGlyphs">T-LGL</text>
<text x="484.7" y="454.7" font-size="8.6" textLength="22.6" lengthAdjust="spacingAndGlyphs">(n = 4)</text>
</g>
<path d="M0 0H520V559H0Z M1.5 1.4V557.1H518.65V1.4Z" fill="#000" fill-rule="evenodd"/>
</svg>
</body></html>
